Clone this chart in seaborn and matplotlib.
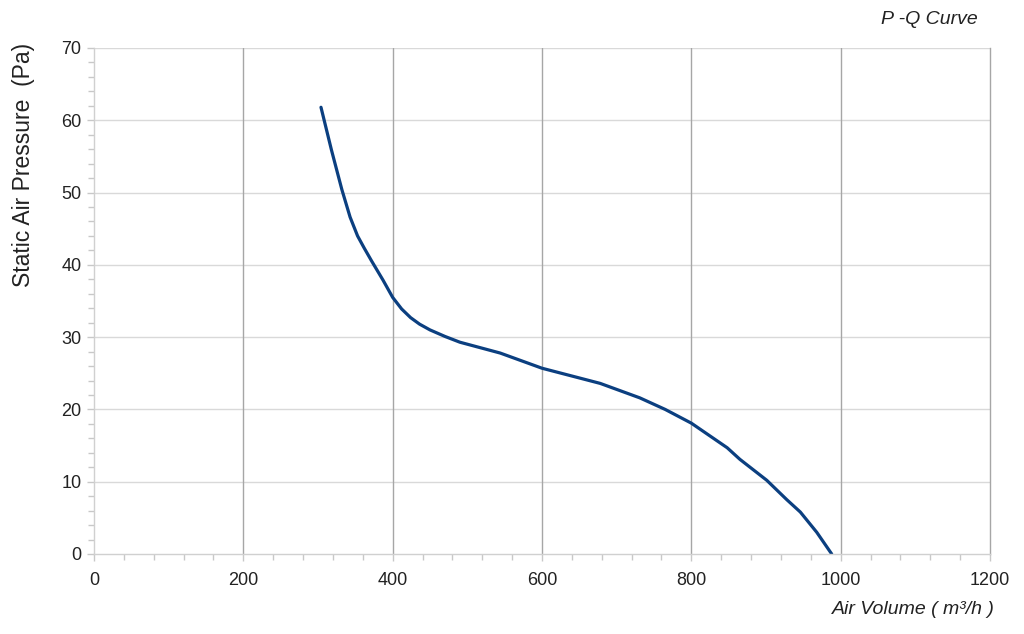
import numpy as np
import pandas as pd
import matplotlib
matplotlib.use("Agg")
import matplotlib.pyplot as plt
from matplotlib.ticker import MultipleLocator
import seaborn as sns

# P-Q curve
air_volume = [304, 318, 332, 343, 353, 362, 372, 387, 400, 412, 424, 436, 450, 470, 490, 544,
              600, 678, 731, 765, 800, 848, 865, 901, 928, 946, 968, 988]
static_pressure = [61.8, 55.9, 50.4, 46.6, 44.0, 42.3, 40.5, 37.9, 35.5, 33.9, 32.7, 31.8,
                   31.0, 30.1, 29.3, 27.8, 25.7, 23.6, 21.6, 20.0, 18.1, 14.7, 13.1,
                   10.2, 7.5, 5.8, 3.0, 0.0]

x_ticks = [0, 200, 400, 600, 800, 1000, 1200]
y_ticks = [0, 10, 20, 30, 40, 50, 60, 70]

df = pd.DataFrame({"q": air_volume, "p": static_pressure})

sns.set_theme(style="white")
plt.rcParams['font.family'] = ['Liberation Sans', 'DejaVu Sans']

fig = plt.figure(figsize=(10.24, 6.34), dpi=100)
ax = fig.add_axes([94 / 1024, 80 / 634, 896 / 1024, 506 / 634])

sns.lineplot(data=df, x="q", y="p", ax=ax, color="#0b3f80", linewidth=2.3, sort=False)

ax.set_xlim(0, 1200)
ax.set_ylim(0, 70)
ax.set_xticks(x_ticks)
ax.set_yticks(y_ticks)
ax.xaxis.set_minor_locator(MultipleLocator(40))
ax.yaxis.set_minor_locator(MultipleLocator(2))

# grid: light horizontals, darker verticals
ax.grid(False)
for y in y_ticks[1:]:
    ax.axhline(y, color="#d9d9d9", linewidth=1.0, zorder=0)
for x in x_ticks[1:-1]:
    ax.axvline(x, color="#a6a6a6", linewidth=1.0, zorder=0)

ax.spines['top'].set_visible(False)
ax.spines['left'].set_color("#d0d0d0")
ax.spines['bottom'].set_color("#d0d0d0")
ax.spines['right'].set_color("#a6a6a6")
for s in ['left', 'bottom', 'right']:
    ax.spines[s].set_linewidth(1.0)

ax.tick_params(axis='both', which='both', direction='out', color="#c8c8c8",
               labelsize=13, labelcolor="#222222")
ax.tick_params(axis='both', which='major', length=5, width=1)
ax.tick_params(axis='both', which='minor', length=4, width=1)
ax.tick_params(axis='x', which='both', bottom=True, pad=8)
ax.tick_params(axis='y', which='both', left=True, pad=4)

ax.set_xlabel("")
ax.set_ylabel("Static Air Pressure  (Pa)", fontsize=16.5, color="#222222")
ax.yaxis.set_label_coords(-0.066, 0.769)

fig.text(978 / 1024, 1 - 20 / 634, "P -Q Curve", ha="right", va="center",
         fontsize=14, style="italic", color="#222222")
fig.text(995 / 1024, 1 - 610 / 634, "Air Volume ( m³/h )", ha="right", va="center",
         fontsize=14, style="italic", color="#222222")

fig.savefig("out.png", dpi=100)
